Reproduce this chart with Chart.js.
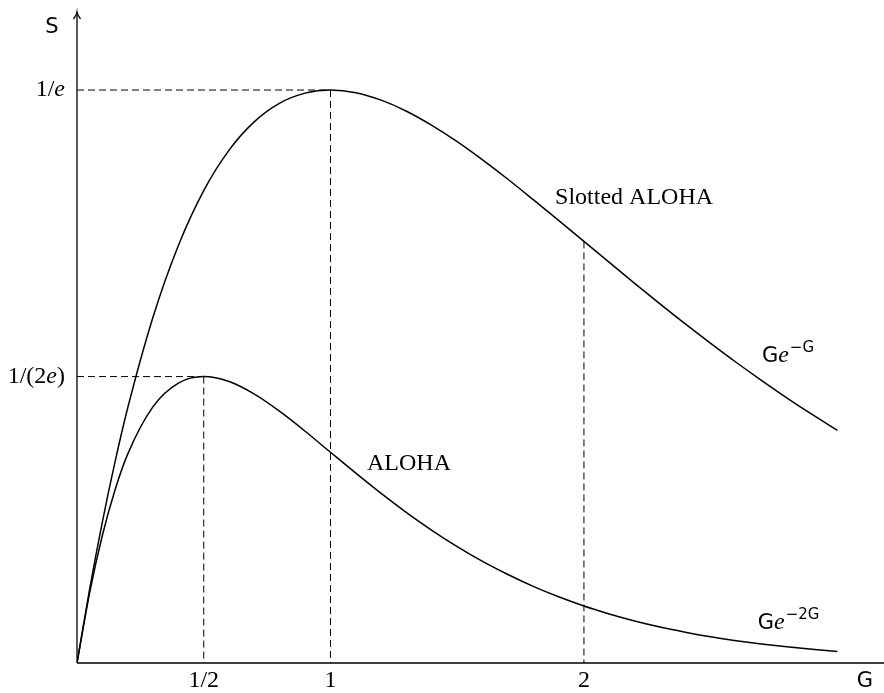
<!DOCTYPE html>
<html>
<head>
<meta charset="utf-8">
<script src="https://cdn.jsdelivr.net/npm/chart.js@4/dist/chart.umd.min.js"></script>
<style>
html,body{margin:0;padding:0;background:#fff;}
#wrap{width:884px;height:693px;}
</style>
</head>
<body>
<div id="wrap"><canvas id="c" width="884" height="693"></canvas></div>
<script>
// Offered load G (x values)
const loadG = [0, 0.05, 0.1, 0.15, 0.2, 0.3, 0.4, 0.5, 0.6, 0.7, 0.8, 0.9, 1.0, 1.1, 1.2, 1.3, 1.4, 1.5, 1.6, 1.7, 1.8, 1.9, 2.0, 2.1, 2.2, 2.3, 2.4, 2.5, 2.6, 2.7, 2.8, 2.9, 3.0];
// Throughput S, slotted ALOHA (G e^-G)
const slottedS = [0, 0.0476, 0.0905, 0.1291, 0.1637, 0.2222, 0.2681, 0.3033, 0.3293, 0.3476, 0.3595, 0.3659, 0.3679, 0.3662, 0.3614, 0.3543, 0.3452, 0.3347, 0.3230, 0.3106, 0.2975, 0.2842, 0.2707, 0.2572, 0.2438, 0.2306, 0.2177, 0.2052, 0.1931, 0.1815, 0.1703, 0.1596, 0.1494];
// Throughput S, pure ALOHA (G e^-2G)
const alohaS = [0, 0.0452, 0.0819, 0.1111, 0.1341, 0.1646, 0.1797, 0.1839, 0.1807, 0.1726, 0.1615, 0.1488, 0.1353, 0.1219, 0.1089, 0.0966, 0.0852, 0.0747, 0.0652, 0.0568, 0.0492, 0.0425, 0.0366, 0.0315, 0.0270, 0.0231, 0.0198, 0.0168, 0.0143, 0.0122, 0.0104, 0.0088, 0.0074];
// x tick labels
const xTickValues = [0.5, 1, 2];
const xTickLabels = ["1/2", "1", "2"];
// y tick values (1/e and 1/(2e))
const yTickValues = [0.3679, 0.1839];

const SERIF = '"Liberation Serif", "DejaVu Serif", serif';
const SANS = '"DejaVu Sans", "Liberation Sans", sans-serif';
const FS = 24;

const decor = {
  id: 'decor',
  afterDatasetsDraw(chart) {
    const ctx = chart.ctx;
    const xs = chart.scales.x, ys = chart.scales.y;
    const X = v => xs.getPixelForValue(v);
    const Y = v => ys.getPixelForValue(v);
    const x0 = X(0), y0 = Y(0);
    ctx.save();
    ctx.strokeStyle = '#000';
    ctx.lineWidth = 1;
    ctx.setLineDash([7, 4]);
    const seg = (a, b, c, d) => { ctx.beginPath(); ctx.moveTo(a, b); ctx.lineTo(c, d); ctx.stroke(); };
    seg(x0, Y(yTickValues[0]), X(1), Y(yTickValues[0]));
    seg(X(1), Y(yTickValues[0]), X(1), y0);
    seg(x0, Y(yTickValues[1]), X(0.5), Y(yTickValues[1]));
    seg(X(0.5), Y(yTickValues[1]), X(0.5), y0);
    seg(X(2), Y(slottedS[loadG.indexOf(2.0)]), X(2), y0);
    ctx.setLineDash([]);
    ctx.lineWidth = 1.3;
    seg(x0, y0, chart.width, y0);
    seg(x0, y0, x0, chart.chartArea.top);
    const ty = chart.chartArea.top;
    ctx.beginPath();
    ctx.moveTo(x0 - 3.5, ty + 7);
    ctx.quadraticCurveTo(x0 - 0.5, ty + 3, x0, ty);
    ctx.quadraticCurveTo(x0 + 0.5, ty + 3, x0 + 3.5, ty + 7);
    ctx.stroke();
    ctx.fillStyle = '#000';
    ctx.font = FS + 'px ' + SERIF;
    ctx.textAlign = 'center';
    ctx.textBaseline = 'alphabetic';
    xTickValues.forEach((v, i) => ctx.fillText(xTickLabels[i], X(v), y0 + 24));
    const rightEdge = x0 - 12;
    const drawMixed = (parts, xRight, yBase) => {
      let w = 0;
      parts.forEach(p => { ctx.font = p[1]; w += ctx.measureText(p[0]).width; });
      let x = xRight - w;
      ctx.textAlign = 'left';
      parts.forEach(p => { ctx.font = p[1]; ctx.fillText(p[0], x, yBase); x += ctx.measureText(p[0]).width; });
    };
    const up = FS + 'px ' + SERIF, it = 'italic ' + FS + 'px ' + SERIF;
    drawMixed([["1/", up], ["e", it]], rightEdge, Y(yTickValues[0]) + 6);
    drawMixed([["1/(2", up], ["e", it], [")", up]], rightEdge, Y(yTickValues[1]) + 6);
    ctx.font = '21px ' + SANS;
    ctx.textAlign = 'center';
    ctx.fillText('S', 52, 33);
    ctx.fillText('G', 865, y0 + 24);
    ctx.textAlign = 'left';
    ctx.font = FS + 'px ' + SERIF;
    ctx.fillText('Slotted ALOHA', X(1.886), Y(0.2947));
    ctx.fillText('ALOHA', X(1.144), Y(0.1239));
    const drawExp = (xl, yb, sup) => {
      ctx.textAlign = 'left';
      let x = xl;
      ctx.font = '21px ' + SANS; ctx.fillText('G', x, yb); x += ctx.measureText('G').width;
      ctx.font = 'italic ' + FS + 'px ' + SERIF; ctx.fillText('e', x, yb); x += ctx.measureText('e').width + 1;
      ctx.font = '15px ' + SANS; ctx.fillText(sup, x, yb - 10);
    };
    drawExp(X(2.702), Y(0.1932), '\u2212G');
    drawExp(X(2.686), Y(0.0218), '\u22122G');
    ctx.restore();
  }
};

new Chart(document.getElementById('c'), {
  type: 'line',
  data: {
    datasets: [
      { label: 'Slotted ALOHA', data: loadG.map((g, i) => ({x: g, y: slottedS[i]})), borderColor: '#000', borderWidth: 1.5, pointRadius: 0, cubicInterpolationMode: 'monotone', fill: false },
      { label: 'ALOHA', data: loadG.map((g, i) => ({x: g, y: alohaS[i]})), borderColor: '#000', borderWidth: 1.5, pointRadius: 0, cubicInterpolationMode: 'monotone', fill: false }
    ]
  },
  options: {
    responsive: false,
    animation: false,
    layout: { padding: { left: 77, right: 4, top: 12, bottom: 30 } },
    plugins: { legend: { display: false }, tooltip: { enabled: false } },
    scales: {
      x: { type: 'linear', min: 0, max: 3.168, display: false },
      y: { type: 'linear', min: 0, max: 0.418, display: false }
    }
  },
  plugins: [decor]
});
</script>
</body>
</html>
